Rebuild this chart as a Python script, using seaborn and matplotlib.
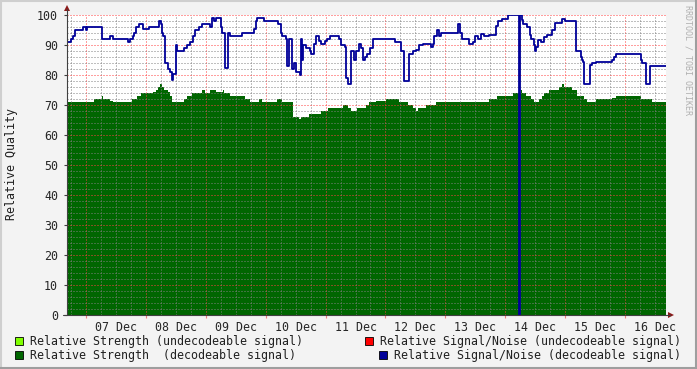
import pandas as pd
import seaborn as sns
import matplotlib.pyplot as plt
import matplotlib.dates as mdates
from matplotlib.lines import Line2D
from matplotlib.patches import Rectangle
from matplotlib.ticker import MultipleLocator, FuncFormatter, NullFormatter

# signal/noise (decodeable) - step changes, hours since start of graph
snr_hours = [0, 1.6, 2.5, 3.3, 6.3, 7.5, 8.2, 14.1, 17.2, 18.3, 24.4, 25.2, 26.3, 26.8,
             27.6, 28.7, 30.3, 32.9, 36.7, 37.5, 37.9, 38.5, 39.2, 40.5, 41.2, 41.9,
             42.5, 43.5, 43.9, 46.8, 48.1, 49.2, 50.5, 51.2, 52.9, 53.9, 57.2, 57.9,
             59.0, 59.6, 61.9, 62.3, 63.5, 64.4, 65.2, 70.3, 74.8, 75.6, 76.1, 78.9,
             84.5, 85.7, 86.3, 87.6, 88.1, 88.9, 90.3, 90.8, 91.6, 93.2, 93.6, 94.0,
             94.6, 95.6, 97.2, 97.9, 98.8, 99.9, 100.9, 101.9, 103.2, 104.3, 105.2,
             108.9, 109.9, 111.2, 111.9, 112.5, 113.6, 114.8, 115.9, 116.8, 117.9,
             118.5, 119.2, 120.1, 121.6, 122.8, 131.6, 133.9, 135.2, 136.9, 138.5,
             139.9, 140.9, 142.5, 145.9, 146.5, 147.2, 148.1, 149.2, 150.0, 156.5,
             157.5, 158.3, 161.2, 162.5, 163.6, 164.5, 165.9, 167.0, 169.0, 171.2,
             171.9, 172.6, 174.3, 176.5, 181.2, 181.4, 182.5, 182.8, 184.5, 185.5,
             185.9, 187.2, 187.6, 188.1, 188.9, 190.0, 191.2, 192.5, 194.5, 195.6,
             198.5, 199.5, 204.1, 205.9, 206.3, 206.8, 207.2, 209.5, 210.5, 212.1,
             218.5, 219.2, 219.9, 229.9, 230.5, 231.9, 233.5, 240.0]
snr_values = [91, 92, 93, 95, 96, 95, 96, 92, 93, 92, 91, 92, 93, 94,
              96, 97, 95.5, 96, 98, 97, 94, 93, 84, 82, 81, 78.5,
              80.5, 90, 88, 89, 90, 91, 93, 95, 96, 97, 96, 99,
              98, 99, 96, 94, 82.5, 94, 93, 94, 95.5, 98, 99, 98,
              97, 94, 93, 92, 83, 92, 82, 84, 81, 80, 92, 85,
              90, 89, 88, 87, 90.5, 93, 91.5, 90.5, 91.5, 92, 93,
              92, 90, 89.5, 79, 77, 88, 85, 88, 90.5, 89,
              85, 86, 87, 89, 92, 91, 88, 78, 87, 88,
              88.5, 90, 90.5, 89.5, 90.5, 93, 95, 93, 94, 97,
              94, 92, 90.5, 91, 93, 92, 93.7, 93, 93.5, 93.3,
              96.5, 98, 98.7, 100, 0, 100, 98.5, 97, 96, 93.3,
              92, 90, 88, 89.5, 91.7, 91, 92.8, 93.3, 95, 97.5,
              98.8, 98, 88, 86, 85, 84.5, 77, 83.5, 84, 84.5,
              85, 86, 87, 85, 84, 77, 83, 83]

# strength (decodeable)
strength_hours = [0, 10.8, 13.9, 14.5, 17.2, 18.5, 25.9, 27.9, 29.5, 34.5, 35.6, 36.5,
                  37.2, 37.9, 38.8, 40.5, 41.2, 41.9, 46.8, 47.9, 49.9, 53.9, 55.2,
                  57.2, 59.6, 62.5, 62.8, 65.2, 71.2, 73.2, 77.0, 78.0, 84.0, 86.0,
                  90.5, 92.9, 93.9, 96.9, 101.9, 104.5, 110.5, 112.5, 113.9, 116.0,
                  119.9, 121.2, 124.0, 128.0, 133.2, 136.5, 138.5, 139.9, 140.5,
                  143.9, 147.9, 169.2, 172.1, 178.5, 181.9, 182.5, 183.9, 185.9,
                  187.2, 189.2, 190.3, 191.2, 193.2, 197.2, 198.3, 199.2, 202.5,
                  204.5, 207.2, 208.5, 211.9, 218.5, 219.9, 229.9, 234.5, 240.0]
strength_values = [71, 72, 73, 72, 71.5, 71, 72, 73, 74, 74.5, 75, 76,
                   77, 76, 75, 74.5, 73, 71, 72, 73, 74, 75, 74,
                   75, 74.5, 75, 74, 73, 72, 71, 72, 71, 72, 71,
                   66, 65.5, 66, 67, 68, 69, 70, 69, 68, 69,
                   70, 71, 71.5, 72, 71, 70, 69, 68, 69,
                   70, 71, 72, 73, 74, 75, 74, 73, 72,
                   71, 72, 73, 74, 75, 76, 77, 76, 75,
                   73, 72, 71, 72, 72.5, 73, 72, 71, 71]

legend_labels = ["Relative Strength (undecodeable signal)",
                 "Relative Strength  (decodeable signal)",
                 "Relative Signal/Noise (undecodeable signal)",
                 "Relative Signal/Noise (decodeable signal)"]
legend_colors = ["#80ff00", "#006600", "#ff0000", "#000099"]

start = pd.Timestamp("2010-12-06 16:24")
end = start + pd.Timedelta(hours=240)

snr = pd.DataFrame({"time": start + pd.to_timedelta(snr_hours, unit="h"), "value": snr_values})
strength = pd.DataFrame({"time": start + pd.to_timedelta(strength_hours, unit="h"),
                         "value": strength_values})

sns.set_style("white")
plt.rcParams["font.family"] = ["DejaVu Sans Mono"]
fs = 8.4

fig = plt.figure(figsize=(6.97, 3.69), dpi=100, facecolor="#f3f3f3")
ax = fig.add_axes([67 / 697, 54 / 369, 599 / 697, 300 / 369])
ax.set_facecolor("white")

ax.fill_between(strength["time"], 0, strength["value"], step="post", color="#006600",
                lw=0, zorder=1)
sns.lineplot(data=snr, x="time", y="value", drawstyle="steps-post", color="#000099",
             lw=1.3, ax=ax, zorder=4)

ax.set_xlim(start, end)
ax.set_ylim(0, 100)
ax.set_xlabel("")
ax.set_ylabel("")

# grid like rrdtool: minor grey, major red, dotted, drawn over the area
ax.set_axisbelow(False)
ax.yaxis.set_major_locator(MultipleLocator(10))
ax.yaxis.set_minor_locator(MultipleLocator(2))
ax.xaxis.set_major_locator(mdates.DayLocator())
ax.xaxis.set_minor_locator(mdates.HourLocator(byhour=[0, 6, 12, 18]))
ax.xaxis.set_major_formatter(NullFormatter())


def day_label(x, pos):
    d = mdates.num2date(x)
    return d.strftime("%d Dec") if d.hour == 12 else ""


ax.xaxis.set_minor_formatter(FuncFormatter(day_label))
ax.grid(which="minor", color=(0.5, 0.5, 0.5, 0.22), linestyle=(0, (1, 2)), lw=0.72)
ax.grid(which="major", color=(1.0, 0.25, 0.25, 0.32), linestyle=(0, (1, 2)), lw=0.72)

ax.tick_params(axis="y", which="major", length=2.5, width=0.8, color="#404040", pad=4,
               labelsize=fs, left=True)
ax.tick_params(axis="y", which="minor", length=0)
ax.tick_params(axis="x", which="major", length=2, width=0.8, color="#f08080", bottom=True)
ax.tick_params(axis="x", which="minor", length=0, pad=4.5, labelsize=fs)

for s in ax.spines.values():
    s.set_visible(False)

# axis lines with arrows
ax.plot([0, 0], [0, 1.02], color="#404040", lw=0.8, transform=ax.transAxes, clip_on=False, zorder=5)
ax.plot([-0.006, 1.007], [0, 0], color="#404040", lw=0.8, transform=ax.transAxes, clip_on=False, zorder=5)
ax.plot([0], [1.022], marker="^", ms=4.5, color="#8b1a1a", mew=0, transform=ax.transAxes, clip_on=False)
ax.plot([1.009], [0], marker=">", ms=4.5, color="#8b1a1a", mew=0, transform=ax.transAxes, clip_on=False)

fig.text(12 / 697, 1 - 164 / 369, "Relative Quality", rotation=90, ha="center", va="center",
         fontsize=fs, color="#202020")
fig.text(688 / 697, 1 - 60 / 369, "RRDTOOL / TOBI OETIKER", rotation=270, ha="center",
         va="center", fontsize=6, color="#b0b0b0")

# legend, two columns like rrdtool
legend_pos = [(15, 341, 30), (15, 355, 30), (365, 341, 380), (379, 355, 394)]
for (bx, by, tx), lab, col in zip(legend_pos, legend_labels, legend_colors):
    fig.patches.append(Rectangle((bx / 697, 1 - (by + 4) / 369), 8 / 697, 8 / 369,
                                 transform=fig.transFigure, facecolor=col,
                                 edgecolor="black", lw=0.6))
    fig.text(tx / 697, 1 - by / 369, lab, ha="left", va="center", fontsize=fs, color="#202020")

# frame shading
fig.add_artist(Line2D([0, 1], [1 - 1 / 369, 1 - 1 / 369], color="#cfcfcf", lw=1.5))
fig.add_artist(Line2D([1 / 697, 1 / 697], [0, 1], color="#cfcfcf", lw=1.5))
fig.add_artist(Line2D([0, 1], [1 / 369, 1 / 369], color="#9e9e9e", lw=1.5))
fig.add_artist(Line2D([1 - 1 / 697, 1 - 1 / 697], [0, 1], color="#9e9e9e", lw=1.5))

fig.savefig("out.png", dpi=100, facecolor=fig.get_facecolor())
